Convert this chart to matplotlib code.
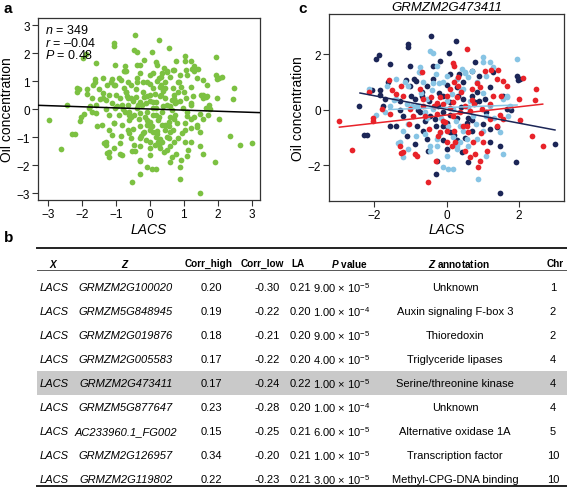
import matplotlib
matplotlib.use("Agg")
import matplotlib.pyplot as plt
import numpy as np

plt.rcParams['font.family'] = ['Liberation Sans', 'DejaVu Sans']
plt.rcParams['mathtext.fontset'] = 'custom'
plt.rcParams['mathtext.rm'] = 'Liberation Sans'
plt.rcParams['mathtext.it'] = 'Liberation Sans:italic'
plt.rcParams['mathtext.bf'] = 'Liberation Sans:bold'
plt.rcParams['mathtext.bfit'] = 'Liberation Sans:italic:bold'
plt.rcParams['axes.unicode_minus'] = True

# ---- scatter data, grouped as in panel c ----
navy_x = [-0.43, -1.06, -1.06, 0.26, -1.87, -1.96, -1.57, -0.18, -0.37, -0.74, -0.85, -1.02,
          -1.62, -2.08, -2.43, -2.3, -2.2, -1.85, -1.71, -1.2, -1.29, -1.4, -1.11, -0.88,
          -0.83, -0.65, -0.55, -0.3, -0.28, 0.0, 0.09, -0.09, -0.09, -0.23, 0.09, 0.32,
          0.46, 0.83, 1.06, 1.2, 1.29, 1.57, 2.03, 1.94, 1.66, 1.2, 1.02, 0.69, 0.42, 0.6,
          1.48, 1.92, 3.0, 0.78, 0.69, 0.09, -0.37, -0.55, -0.69, -0.88, -0.74, -0.46,
          -0.32, 0.0, 0.28, 0.55, 1.39, 1.2, 0.78, 0.46,
          -0.5, -0.2, 0.1, 0.4, -0.8, 0.6, 0.3, -0.3, 0.2, 0.9, -1.0, -0.6, 0.0, 0.7,
          1.1, -1.3, 0.5, -0.1, 0.35, -0.9,
          -1.02, -1.85, -1.12, -1.75, -1.56, -0.53, 0.3, 1.48, 0.01, 0.7, 1.77, 0.89,
          0.06, -0.68, -0.09, 0.7, 1.97]
navy_y = [2.66, 2.36, 2.24, 2.48, 1.96, 1.82, 1.63, 1.74, 1.58, 1.37, 1.04, 0.86,
          0.98, 0.72, 0.14, -0.91, -0.9, 0.53, 0.38, -0.22, 0.32, -0.57, -0.93, -1.23,
          -0.57, -0.75, -1.05, -2.31, -1.83, -1.41, -0.81, -0.57, -0.1, 0.14, 0.26, 0.5,
          0.98, 0.62, 0.38, 0.8, 1.34, 0.5, 1.1, 1.22, 0.02, -1.17, -0.51, -0.75, -1.53, -1.89,
          -2.99, -1.89, -1.23, 1.7, 1.4, 1.28, 1.1, 0.86, 0.62, 0.38, -0.1, -0.22,
          -0.34, -0.46, -0.28, -0.46, -0.63, -0.69, 0.26, 0.38,
          0.3, 0.6, -0.2, 0.1, 0.0, -0.3, 0.8, -0.6, -0.9, 0.3, 0.5, -0.4, 0.9, 0.5,
          -0.1, 0.0, -1.0, -1.1, 1.3, 1.1,
          1.56, 0.72, 1.08, 0.12, -0.6, -1.5, -1.08, -1.32, -0.6, -0.36, 0.0, 1.2,
          2.04, 0.48, 0.48, 0.36, 1.08]

sky_x = [-0.46, -0.39, 1.02, 1.02, 1.96, 0.42, 0.51, -0.74, -1.39, -1.66, -1.15, -1.06,
         -0.28, 0.0, 0.28, 0.6, 1.2, 1.29, 1.66, 1.75, 1.57, 1.71, 0.65, 1.2, -0.37, -0.55,
         -0.83, -1.06, -1.2, -1.29, -1.06, -1.2, -0.6, -0.46, -0.28, -0.09, 0.05, 0.18,
         0.28, 0.37, 0.0, 0.83, 0.88, 1.57, 1.02, 1.48, 0.74, 0.18, 0.37, -1.71, -1.57,
         -1.39, -0.65, -0.09, 0.46, 0.83, 0.18, 0.55, -0.55,
         -0.4, 0.0, 0.25, -0.15, 0.6, -0.7, 0.8, -0.3, 0.15, -0.6, 0.45, 1.0, -1.1, 0.3,
         -0.45, 0.7, 1.3, -0.2, 0.05, -0.85,
         -0.77, -2.15, -1.46, -1.95, -1.36, -0.28, 0.6, 1.09, -0.19, 1.09, 1.68, 0.5,
         -0.38, -0.97, 0.4, 1.09]
sky_y = [2.12, 2.04, 1.7, 1.88, 1.84, 1.46, 1.34, 1.52, 1.1, 0.84, 0.98, 0.84,
         1.58, 1.22, 1.1, 1.16, 1.7, 1.52, 0.44, 0.14, 0.38, -0.22, 0.32, 0.14, 0.02, 0.38,
         0.14, -0.51, -0.75, -1.17, -1.41, -1.71, -0.87, -1.29, -1.05, -2.07, -2.13, -2.13,
         -1.29, -1.17, -1.65, -1.05, -2.49, -1.59, -0.75, -0.81, -0.22, 0.02, -0.57, -0.1, 0.14,
         0.38, 0.98, 0.98, 0.74, 0.98, -0.99, -1.05, -0.28,
         0.7, 0.3, -0.4, -0.3, 0.1, 0.6, -0.5, 1.3, 0.55, -0.1, -0.75, 0.6, 0.2, -1.4,
         -1.5, 1.4, -0.3, 0.95, -0.6, -0.95,
         1.34, 0.74, 0.36, -0.18, -1.2, -1.32, -1.32, -1.68, -0.84, -0.24, 0.48, 1.32,
         0.96, 0.12, 0.72, 1.2]

red_x = [0.55, 0.17, 1.23, 1.43, 1.06, 1.57, 2.12, 2.47, 1.99, 2.03, 2.36, 2.66, 1.39,
         0.92, 0.69, 0.32, 0.09, 0.0, -0.18, -0.42, -0.65, -0.69, -1.2, -1.39, -1.8, -2.03,
         -2.15, -2.97, -2.62, -1.29, -1.2, -0.88, -0.83, -0.3, -0.53, -0.18, 0.0, 0.23, 0.51,
         0.65, 0.88, 0.92, 0.78, 1.11, 0.72, 1.02, 1.39, 1.57, 1.2, 0.97, 0.51, 0.37, 0.18,
         0.18, -0.28, -0.6, -0.65, -0.92, -1.02, -1.57, 0.46, 0.6, 0.0, -0.09, 0.32,
         0.1, -0.35, 0.3, 0.65, -0.05, 0.85, -0.5, 0.2, 1.2, -0.75, 0.55, -0.25, 0.95, 0.4,
         -1.05, 0.75, 1.5, -0.1, 0.15, -1.5,
         -1.61, -1.26, -2.05, -1.26, 0.21, 1.48, 0.21, -0.28, 1.28, 1.68, 0.7, 2.46]
red_y = [2.18, 1.68, 1.42, 1.44, 1.4, 1.04, 1.13, 0.74, 0.38, -0.36, -0.96, -1.29, 1.1,
         0.8, 0.74, 1.16, 0.74, 0.5, 0.44, 0.44, 0.38, 1.34, 0.5, 0.56, 0.02, -0.28,
         0.62, -0.4, -1.44, -1.29, -1.53, -1.59, -1.65, -1.86, -2.61, -0.81, -1.17, -1.17, -1.47,
         -1.71, -2.07, -1.83, -1.59, -1.47, -1.17, -1.17, -0.57, -0.34, -0.34, 0.02, 0.14, -0.1, -0.22,
         0.26, -0.16, -0.22, 0.14, -0.22, 0.02, -0.16, -0.57, -0.81, -0.75, -0.4, 0.86,
         0.05, 0.15, 0.45, -0.05, -0.45, 0.95, -0.7, 1.0, 0.2, 0.75, -0.6, -0.95, -0.85, 0.65,
         -0.5, 0.2, 0.5, 0.2, -1.3, 0.7,
         1.08, 0.84, -0.42, -1.56, -0.78, -0.18, 1.56, 0.24, 0.48, 0.84, 0.36, 0.36]

# fitted lines: (intercept, slope, x_start, x_end)
fit_all = (0.0, -0.04, -3.3, 3.3)
fit_navy = (0.01, -0.246, -2.4, 3.0)
fit_sky = (0.08, 0.046, -1.6, 1.95)
fit_red = (-0.19, 0.147, -2.97, 2.66)

# ---- table data ----
tab_header = ["X", "Z", "Corr_high", "Corr_low", "LA", "P value", "Z annotation", "Chr"]
tab_x = ["LACS"] * 9
tab_z = ["GRMZM2G100020", "GRMZM5G848945", "GRMZM2G019876", "GRMZM2G005583",
         "GRMZM2G473411", "GRMZM5G877647", "AC233960.1_FG002", "GRMZM2G126957",
         "GRMZM2G119802"]
corr_high = ["0.20", "0.19", "0.18", "0.17", "0.17", "0.23", "0.15", "0.34", "0.22"]
corr_low = ["-0.30", "-0.22", "-0.21", "-0.22", "-0.24", "-0.28", "-0.25", "-0.20", "-0.23"]
la = ["0.21", "0.20", "0.20", "0.20", "0.22", "0.20", "0.21", "0.21", "0.21"]
p_mant = ["9.00", "1.00", "9.00", "4.00", "1.00", "1.00", "6.00", "1.00", "3.00"]
p_exp = [-5, -4, -5, -5, -5, -4, -5, -5, -5]
z_annot = ["Unknown", "Auxin signaling F-box 3", "Thioredoxin", "Triglyceride lipases",
           "Serine/threonine kinase", "Unknown", "Alternative oxidase 1A",
           "Transcription factor", "Methyl-CPG-DNA binding"]
chr_no = ["1", "2", "2", "4", "4", "4", "5", "10", "10"]
highlight_row = 4

green = '#7cc142'
c_navy = '#1c2657'
c_sky = '#87c4e4'
c_red = '#e8232a'

W, H = 567, 489
fig = plt.figure(figsize=(W / 100, H / 100), dpi=100)


def style_axes(ax):
    for s in ax.spines.values():
        s.set_linewidth(0.9)
        s.set_color('#333333')
    ax.tick_params(labelsize=8.5, length=4, width=0.8, color='#333333', pad=2)


# ---- panel a ----
all_x = navy_x + sky_x + red_x
all_y = navy_y + sky_y + red_y
axa = fig.add_axes([38.3 / W, 1 - 201 / H, 221.7 / W, 182 / H])
axa.scatter(all_x, all_y, s=17, color=green, linewidths=0, zorder=2)
xs = np.array(fit_all[2:])
axa.plot(xs, fit_all[0] + fit_all[1] * xs, color='black', lw=1.1, zorder=3)
axa.set_xlim(-3.28, 3.24)
axa.set_ylim(-3.25, 3.25)
axa.set_xticks([-3, -2, -1, 0, 1, 2, 3])
axa.set_yticks([-3, -2, -1, 0, 1, 2, 3])
style_axes(axa)
axa.set_xlabel("LACS", style='italic', fontsize=10, labelpad=1)
axa.set_ylabel("Oil concentration", fontsize=10, labelpad=2)
axa.text(0.03, 0.97, "$n$ = 349\n$r$ = \u20130.04\n$P$ = 0.48", transform=axa.transAxes,
         ha='left', va='top', fontsize=9, linespacing=0.95)

# ---- panel c ----
axc = fig.add_axes([329.3 / W, 1 - 201.7 / H, 234.7 / W, 186.7 / H])
axc.scatter(navy_x, navy_y, s=17, color=c_navy, linewidths=0, zorder=2)
axc.scatter(sky_x, sky_y, s=17, color=c_sky, linewidths=0, zorder=2)
axc.scatter(red_x, red_y, s=17, color=c_red, linewidths=0, zorder=2)
for fit, col in [(fit_red, c_red), (fit_sky, c_sky), (fit_navy, c_navy)]:
    xs = np.array(fit[2:])
    axc.plot(xs, fit[0] + fit[1] * xs, color=col, lw=1.1, zorder=3)
axc.set_xlim(-3.25, 3.25)
axc.set_ylim(-3.27, 3.44)
axc.set_xticks([-2, 0, 2])
axc.set_yticks([-2, 0, 2])
style_axes(axc)
axc.set_xlabel("LACS", style='italic', fontsize=10, labelpad=1)
axc.set_ylabel("Oil concentration", fontsize=10, labelpad=2)
axc.set_title("GRMZM2G473411", style='italic', fontsize=9.5, pad=3)

# ---- panel labels and table (pixel coordinates) ----
axt = fig.add_axes([0, 0, 1, 1], zorder=-1)
axt.set_xlim(0, W)
axt.set_ylim(H, 0)
axt.axis('off')

axt.text(4, 9, "a", fontsize=11, fontweight='bold', va='center')
axt.text(298, 9, "c", fontsize=11, fontweight='bold', va='center')
axt.text(4, 238, "b", fontsize=11, fontweight='bold', va='center')

left, right = 37, 567
axt.plot([left, right], [248.5, 248.5], color='#222222', lw=1.4)
axt.plot([left, right], [271, 271], color='#555555', lw=0.7)
axt.plot([left, right], [487, 487], color='#222222', lw=1.4)

row_y0, row_dy = 288, 24
hy = row_y0 + highlight_row * row_dy
axt.add_patch(plt.Rectangle((left, hy - 12), right - left, 24, color='#c9c9c9', lw=0))

hdr_y = 264
fs = 8
fh = 7.2
axt.text(54, hdr_y, r"$\mathbfit{X}$", ha='center', va='center', fontsize=fh)
axt.text(125, hdr_y, r"$\mathbfit{Z}$", ha='center', va='center', fontsize=fh)
axt.text(209, hdr_y, tab_header[2], ha='center', va='center', fontsize=fh, fontweight='bold')
axt.text(262, hdr_y, tab_header[3], ha='center', va='center', fontsize=fh, fontweight='bold')
axt.text(298, hdr_y, tab_header[4], ha='center', va='center', fontsize=fh, fontweight='bold')
axt.text(349, hdr_y, r"$\mathbfit{P}$ value", ha='center', va='center', fontsize=fh,
         fontweight='bold')
axt.text(459, hdr_y, r"$\mathbfit{Z}$ annotation", ha='center', va='center', fontsize=fh,
         fontweight='bold')
axt.text(555, hdr_y, tab_header[7], ha='center', va='center', fontsize=fh, fontweight='bold')

for i in range(len(tab_z)):
    y = row_y0 + i * row_dy
    axt.text(54, y, tab_x[i], ha='center', va='center', fontsize=fs, style='italic')
    axt.text(126, y, tab_z[i], ha='center', va='center', fontsize=fs, style='italic')
    axt.text(211, y, corr_high[i], ha='center', va='center', fontsize=fs)
    axt.text(267, y, corr_low[i], ha='center', va='center', fontsize=fs)
    axt.text(300, y, la[i], ha='center', va='center', fontsize=fs)
    axt.text(313, y, p_mant[i] + r" $\times$ 10$^{%d}$" % p_exp[i], ha='left', va='center',
             fontsize=fs)
    axt.text(455, y, z_annot[i], ha='center', va='center', fontsize=fs)
    axt.text(553, y, chr_no[i], ha='center', va='center', fontsize=fs)

fig.savefig("out.png", dpi=100)
